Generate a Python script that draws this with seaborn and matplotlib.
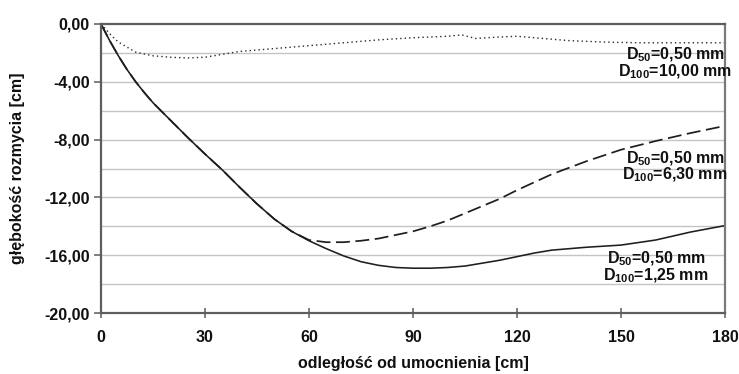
import matplotlib
matplotlib.use("Agg")
import matplotlib.pyplot as plt
import seaborn as sns
import pandas as pd

# distance from the revetment [cm]
x_fine = [0, 2.5, 5, 7.5, 10, 12.5, 15, 17.5, 20, 25, 30, 35, 40, 45, 50, 55, 60,
          65, 70, 75, 80, 85, 90, 95, 100, 105, 110, 115, 120, 125, 130, 140, 150,
          160, 170, 180]

# scour depth [cm], D100 = 1,25 mm
depth_125 = [0, -1.15, -2.2, -3.15, -4.0, -4.75, -5.45, -6.05, -6.65, -7.85, -9.0,
             -10.1, -11.3, -12.45, -13.5, -14.35, -15.0, -15.55, -16.05, -16.45,
             -16.7, -16.85, -16.9, -16.9, -16.85, -16.75, -16.55, -16.35, -16.1,
             -15.85, -15.65, -15.45, -15.3, -14.95, -14.4, -13.95]

# scour depth [cm], D100 = 6,30 mm
depth_630 = [0, -1.15, -2.2, -3.15, -4.0, -4.75, -5.45, -6.05, -6.65, -7.85, -9.0,
             -10.1, -11.3, -12.45, -13.5, -14.35, -14.95, -15.1, -15.1, -15.0,
             -14.85, -14.6, -14.35, -14.0, -13.6, -13.1, -12.6, -12.1, -11.5,
             -10.95, -10.4, -9.5, -8.7, -8.1, -7.55, -7.05]

# scour depth [cm], D100 = 10,00 mm
x_coarse = [0, 3, 5, 10, 15, 20, 25, 30, 35, 40, 50, 60, 70, 80, 90, 100, 104,
            108, 115, 120, 125, 135, 145, 155, 165, 180]
depth_1000 = [0, -0.8, -1.25, -1.95, -2.2, -2.3, -2.35, -2.3, -2.1, -1.9, -1.7,
              -1.5, -1.3, -1.1, -0.95, -0.85, -0.75, -1.0, -0.9, -0.85, -0.95,
              -1.15, -1.25, -1.3, -1.3, -1.3]

x_ticks = [0, 30, 60, 90, 120, 150, 180]
y_ticks = [0, -4, -8, -12, -16, -20]
y_tick_labels = ["0,00", "-4,00", "-8,00", "-12,00", "-16,00", "-20,00"]

labels = [("D$_{50}$=0,50 mm", "D$_{100}$=10,00 mm"),
          ("D$_{50}$=0,50 mm", "D$_{100}$=6,30 mm"),
          ("D$_{50}$=0,50 mm", "D$_{100}$=1,25 mm")]

sns.set_theme(style="white")
plt.rcParams["font.family"] = ["Liberation Sans", "DejaVu Sans"]
plt.rcParams["font.weight"] = "bold"
plt.rcParams["mathtext.fontset"] = "custom"
plt.rcParams["mathtext.rm"] = "Liberation Sans:bold"
plt.rcParams["mathtext.it"] = "Liberation Sans:bold"
plt.rcParams["mathtext.bf"] = "Liberation Sans:bold"
plt.rcParams["mathtext.default"] = "bf"

FS = 11.5
TXT = "#111111"

fig = plt.figure(figsize=(7.39, 3.74), dpi=100)
ax = fig.add_axes([101 / 739, 1 - 313 / 374, 624 / 739, 289 / 374])

# horizontal grid every 2 cm
for gy in range(-18, 0, 2):
    ax.axhline(gy, color="#c4c4c4", lw=1.0, zorder=0)

line_color = "#1e1e1e"
df_fine = pd.DataFrame({"x": x_fine, "a": depth_125, "b": depth_630})
df_coarse = pd.DataFrame({"x": x_coarse, "c": depth_1000})

sns.lineplot(data=df_coarse, x="x", y="c", ax=ax, color="#2a2a2a", lw=1.0,
             linestyle=(0, (1, 2.2)), estimator=None, sort=False)
sns.lineplot(data=df_fine, x="x", y="b", ax=ax, color=line_color, lw=1.25,
             linestyle=(0, (8, 3.2)), estimator=None, sort=False)
sns.lineplot(data=df_fine, x="x", y="a", ax=ax, color=line_color, lw=1.15,
             estimator=None, sort=False)

ax.set_xlim(0, 180)
ax.set_ylim(-20, 0)
ax.set_xticks(x_ticks)
ax.set_xticklabels([str(v) for v in x_ticks])
ax.set_yticks(y_ticks)
ax.set_yticklabels(y_tick_labels)

for name, s in ax.spines.items():
    s.set_visible(True)
    s.set_linewidth(1.6)
    s.set_color("#5e5e5e" if name in ("left", "bottom", "top") else "#7a7a7a")

ax.tick_params(axis="x", direction="inout", length=7, width=1.2, color="#6a6a6a",
               labelsize=FS, pad=9, labelcolor=TXT, bottom=True)
ax.tick_params(axis="y", direction="out", length=5, width=1.2, color="#6a6a6a",
               labelsize=FS, pad=3, labelcolor=TXT, left=True)
for t in ax.get_xticklabels() + ax.get_yticklabels():
    t.set_fontweight("bold")

ax.set_xlabel("odległość od umocnienia [cm]", fontsize=FS, fontweight="bold",
              labelpad=8, color=TXT)
ax.set_ylabel("głębokość rozmycia [cm]", fontsize=FS, fontweight="bold",
              labelpad=14, color=TXT)

# curve annotations
label_pos = [(165.6, -2.15, -3.3), (165.6, -9.3, -10.45), (160.1, -16.25, -17.4)]
for (l1, l2), (lx, ly1, ly2) in zip(labels, label_pos):
    ax.text(lx, ly1, l1, ha="center", va="center", fontsize=FS, color=TXT)
    ax.text(lx, ly2, l2, ha="center", va="center", fontsize=FS, color=TXT)

fig.savefig("out.png", dpi=100)
